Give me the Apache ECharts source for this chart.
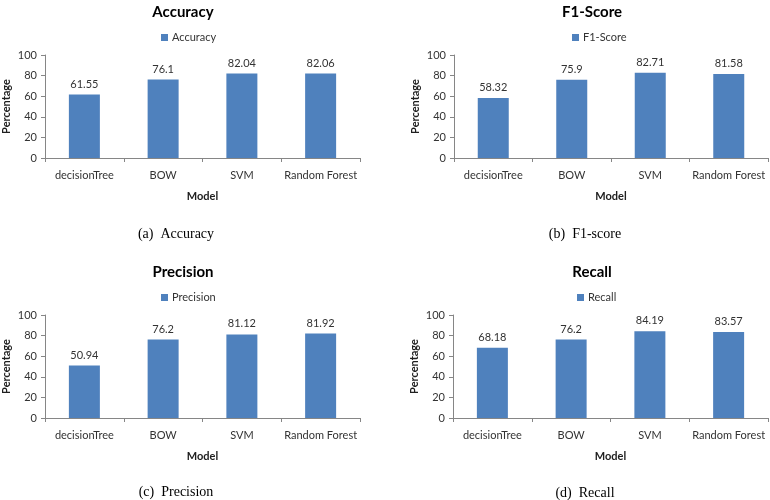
<!DOCTYPE html>
<html>
<head>
<meta charset="utf-8">
<script src="https://cdn.jsdelivr.net/npm/echarts@6/dist/echarts.min.js"></script>
<style>html,body{margin:0;padding:0;background:#fff}#c{width:770px;height:500px}</style>
</head>
<body>
<div id="c"></div>
<script>
var categories = ['decisionTree', 'BOW', 'SVM', 'Random Forest'];
var accuracy = [61.55, 76.1, 82.04, 82.06];
var f1Score = [58.32, 75.9, 82.71, 81.58];
var precision = [50.94, 76.2, 81.12, 81.92];
var recall = [68.18, 76.2, 84.19, 83.57];
var yTicks = [0, 20, 40, 60, 80, 100];
var panelNames = ['Accuracy', 'F1-Score', 'Precision', 'Recall'];
var captions = ['(a)  Accuracy', '(b)  F1-score', '(c)  Precision', '(d)  Recall'];

var panelData = [accuracy, f1Score, precision, recall];
var FONT = 'Lato, "Open Sans", sans-serif';
var BAR = '#4F81BD';
var TXT = '#333333';

var layout = [
  {left: 44, width: 316, top: 55, cx: 178, legLeft: 156, legTop: 27, capY: 227},
  {left: 454, width: 314, top: 55, cx: 587, legLeft: 567, legTop: 27, capY: 227},
  {left: 44, width: 316, top: 315, cx: 178, legLeft: 156, legTop: 287, capY: 485},
  {left: 453, width: 315, top: 315, cx: 587, legLeft: 572, legTop: 287, capY: 486}
];

var option = {
  backgroundColor: '#fff',
  animation: false,
  textStyle: {fontFamily: FONT},
  title: [], legend: [], grid: [], xAxis: [], yAxis: [], series: []
};

layout.forEach(function (L, i) {
  option.title.push({
    text: panelNames[i], left: L.cx, top: L.top - 55, textAlign: 'center',
    textStyle: {fontFamily: FONT, fontSize: 15, fontWeight: 'bold', color: '#000'}
  });
  option.legend.push({
    data: [panelNames[i]], left: L.legLeft, top: L.legTop,
    itemWidth: 7, itemHeight: 7, itemGap: 4,
    icon: 'rect',
    textStyle: {fontFamily: FONT, fontSize: 11, color: TXT, padding: [0, 0, 0, -1]}
  });
  option.grid.push({left: L.left, top: L.top, width: L.width, height: 103});
  option.xAxis.push({
    type: 'category', gridIndex: i, data: categories,
    name: 'Model', nameLocation: 'middle', nameGap: 33,
    nameTextStyle: {fontFamily: FONT, fontSize: 11, fontWeight: 'bold', color: '#202020'},
    axisLine: {lineStyle: {color: '#868686'}},
    axisTick: {show: true, alignWithLabel: false, length: 4, lineStyle: {color: '#868686'}},
    axisLabel: {fontFamily: FONT, fontSize: 11, color: TXT, margin: 12, interval: 0},
    splitLine: {show: false}
  });
  option.yAxis.push({
    type: 'value', gridIndex: i, min: yTicks[0], max: yTicks[yTicks.length - 1], interval: 20,
    name: 'Percentage', nameLocation: 'middle', nameGap: 33,
    nameTextStyle: {fontFamily: FONT, fontSize: 11, fontWeight: 'bold', color: '#202020'},
    axisLine: {show: true, lineStyle: {color: '#868686'}},
    axisTick: {show: true, length: 4, lineStyle: {color: '#868686'}},
    axisLabel: {fontFamily: FONT, fontSize: 11, color: TXT, margin: 8},
    splitLine: {show: false}
  });
  option.series.push({
    type: 'bar', name: panelNames[i], xAxisIndex: i, yAxisIndex: i,
    data: panelData[i], barWidth: 31,
    itemStyle: {color: BAR},
    label: {show: true, position: 'top', distance: 5, fontFamily: FONT, fontSize: 11, color: TXT}
  });
});

option.graphic = layout.map(function (L, i) {
  return {
    type: 'text', x: L.cx - 2, y: L.capY,
    style: {text: captions[i], font: '14px "Liberation Serif", serif', fill: '#000', align: 'center', verticalAlign: 'top'}
  };
});

var chart = echarts.init(document.getElementById('c'), null, {renderer: 'canvas'});
chart.setOption(option);
</script>
</body>
</html>
